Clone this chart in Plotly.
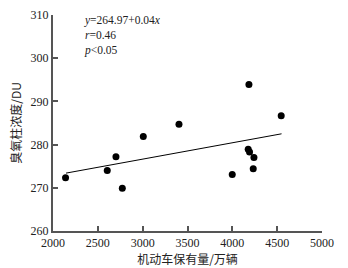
import plotly.graph_objects as go

vehicles = [2140, 2605, 2702, 2773, 3007, 3405, 3999, 4185, 4177, 4192, 4241, 4233, 4545]
ozone = [272.3, 274.0, 277.2, 269.9, 281.9, 284.7, 273.1, 293.9, 278.9, 278.3, 277.0, 274.4, 286.7]
fit_x = [2145, 4549]
fit_y = [273.4, 282.5]
x_ticks = [2000, 2500, 3000, 3500, 4000, 4500, 5000]
y_ticks = [260, 270, 280, 290, 300, 310]
stats_text = "<i>y</i>=264.97+0.04<i>x</i><br><i>r</i>=0.46<br><i>p</i>&lt;0.05"

serif = "Liberation Serif, Times New Roman, serif"
cjk = "Noto Sans CJK SC"

fig = go.Figure()
fig.add_trace(go.Scatter(x=fit_x, y=fit_y, mode="lines",
                         line=dict(color="black", width=1), showlegend=False))
fig.add_trace(go.Scatter(x=vehicles, y=ozone, mode="markers",
                         marker=dict(color="black", size=7), showlegend=False))

fig.add_annotation(x=2334, xref="x", y=1.01, yref="paper", text=stats_text, showarrow=False,
                   xanchor="left", yanchor="top", align="left", borderpad=0,
                   font=dict(family=serif, size=11.5, color="#222"))

axis_common = dict(showgrid=False, zeroline=False, showline=True, linecolor="#555",
                   linewidth=2, ticks="inside", ticklen=5, tickwidth=1.5, tickcolor="#555",
                   automargin=False,
                   tickfont=dict(family=serif, size=12, color="#222"))

fig.update_xaxes(range=[2000, 5000], tickvals=x_ticks, **axis_common,
                 title=dict(text="机动车保有量/万辆", font=dict(family=cjk, size=12, color="#222"),
                            standoff=4))
fig.update_yaxes(range=[260, 310], tickvals=y_ticks, **axis_common,
                 title=dict(text="臭氧柱浓度/DU", font=dict(family=cjk, size=12, color="#222"),
                            standoff=6))

fig.update_layout(width=348, height=268, margin=dict(l=53, r=26, t=15, b=37),
                  plot_bgcolor="white", paper_bgcolor="white")
fig.write_html("out.html", config={"displayModeBar": False},
               post_script="document.body.style.margin='0';")
